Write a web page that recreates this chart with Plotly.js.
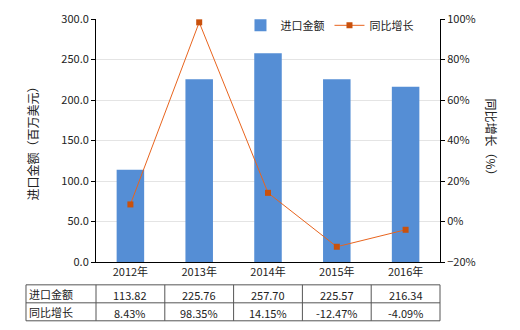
<!DOCTYPE html>
<html><head><meta charset="utf-8">
<script src="https://cdn.plot.ly/plotly-3.0.1.min.js"></script>
<style>html,body{margin:0;padding:0;background:#fff}</style>
</head><body><div id="chart" style="width:520px;height:330px"></div>
<script>
const years = ["2012年","2013年","2014年","2015年","2016年"];
const importValues = [113.82,225.76,257.70,225.57,216.34];
const growthPct = [8.43,98.35,14.15,-12.47,-4.09];
const importLabels = ["113.82","225.76","257.70","225.57","216.34"];
const growthLabels = ["8.43%","98.35%","14.15%","-12.47%","-4.09%"];
const rowNames = ["进口金额","同比增长"];

const font = "'Noto Sans CJK SC', 'Microsoft YaHei', sans-serif";
const traces = [
  {type:"bar", x:years, y:importValues, name:rowNames[0], marker:{color:"#558ED5"}, width:0.4, yaxis:"y"},
  {type:"scatter", mode:"lines+markers", x:years, y:growthPct, name:rowNames[1], yaxis:"y2",
   line:{color:"#E8641E", width:1}, marker:{symbol:"square", size:6, color:"#C9510C"}}
];

const shapes = [];
const annotations = [];
const tTop=-0.094, tMid=-0.168, tBot=-0.242, tLeft=-0.2035;
const lineStyle = {color:"#555", width:1};
[tTop,tMid,tBot].forEach(y=>shapes.push({type:"line",xref:"paper",yref:"paper",x0:tLeft,x1:1,y0:y,y1:y,line:lineStyle}));
const xs=[tLeft,0,0.2,0.4,0.6,0.8,1];
xs.forEach(x=>shapes.push({type:"line",xref:"paper",yref:"paper",x0:x,x1:x,y0:tTop,y1:tBot,line:lineStyle}));
rowNames.forEach((n,r)=>{
  annotations.push({xref:"paper",yref:"paper",x:tLeft+0.004,y:(r===0?(tTop+tMid)/2:(tMid+tBot)/2),text:n,showarrow:false,xanchor:"left",yanchor:"middle",font:{size:11,color:"#222",family:font}});
});
years.forEach((y,i)=>{
  const cx=0.1+0.2*i;
  annotations.push({xref:"paper",yref:"paper",x:cx,y:(tTop+tMid)/2-0.004,text:importLabels[i],showarrow:false,xanchor:"center",yanchor:"middle",font:{size:11,color:"#222",family:font}});
  annotations.push({xref:"paper",yref:"paper",x:cx,y:(tMid+tBot)/2-0.004,text:growthLabels[i],showarrow:false,xanchor:"center",yanchor:"middle",font:{size:11,color:"#222",family:font}});
});
annotations.push({xref:"paper",yref:"paper",x:1.151,y:0.5,text:"同比增长（%）",textangle:90,showarrow:false,xanchor:"center",yanchor:"middle",font:{size:12,color:"#222",family:font}});

const layout = {
  width:520, height:330,
  margin:{l:96, r:80, t:18, b:68},
  paper_bgcolor:"#fff", plot_bgcolor:"#fff",
  font:{family:font, size:11, color:"#222"},
  showlegend:true,
  legend:{orientation:"h", x:0.42, y:0.97, xanchor:"left", yanchor:"middle", font:{size:11,family:font}, bgcolor:"rgba(0,0,0,0)", itemwidth:30},
  bargap:0.6,
  xaxis:{type:"category", showline:true, linecolor:"#000", linewidth:1, ticks:"", tickfont:{size:11}, showgrid:false, zeroline:false, mirror:false},
  yaxis:{range:[0,300], dtick:50, tickformat:".1f", showline:true, linecolor:"#000", linewidth:1, ticks:"outside", ticklen:4, tickcolor:"#000",
         gridcolor:"#e4e4e4", zeroline:false, tickfont:{size:11},
         title:{text:"进口金额（百万美元）", font:{size:12,family:font}, standoff:20}},
  yaxis2:{range:[-20,100], dtick:20, ticksuffix:"%", overlaying:"y", side:"right", showline:true, linecolor:"#000", linewidth:1,
          ticks:"outside", ticklen:4, tickcolor:"#000", showgrid:false, zeroline:false, tickfont:{size:11}},
  shapes:shapes, annotations:annotations
};
Plotly.newPlot("chart", traces, layout, {displayModeBar:false, staticPlot:true});
</script></body></html>
